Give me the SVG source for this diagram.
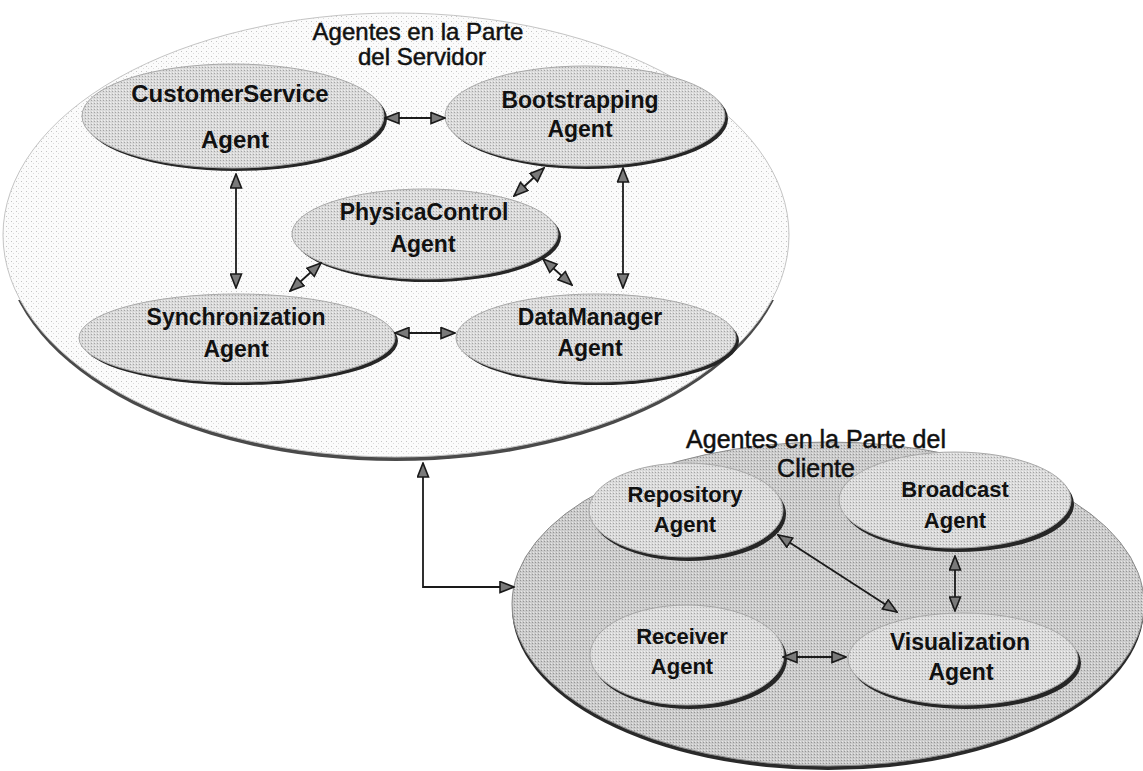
<svg xmlns="http://www.w3.org/2000/svg" width="1143" height="771" viewBox="0 0 1143 771">
<defs>
<pattern id="dots" width="5" height="5" patternUnits="userSpaceOnUse"><rect width="5" height="5" fill="#fbfbfb"/><rect x="1" y="1" width="1" height="1" fill="#c4c4c4"/><rect x="3" y="3" width="1" height="1" fill="#dcdcdc"/></pattern>
<pattern id="nodeFill" width="3" height="3" patternUnits="userSpaceOnUse"><rect width="3" height="3" fill="#dadada"/><rect x="1" y="1" width="1" height="1" fill="#a4a4a4"/><rect x="2" y="0" width="1" height="1" fill="#f0f0f0"/></pattern>
<pattern id="clientFill" width="3" height="3" patternUnits="userSpaceOnUse"><rect width="3" height="3" fill="#cbcbcb"/><rect x="1" y="1" width="1" height="1" fill="#959595"/><rect x="2" y="0" width="1" height="1" fill="#e6e6e6"/></pattern>
<clipPath id="serverLow"><rect x="0" y="300" width="1143" height="200"/></clipPath>
<clipPath id="clientLow"><rect x="400" y="590" width="743" height="190"/></clipPath>
<marker id="arr" viewBox="0 0 16 13" refX="15" refY="6.5" markerWidth="16" markerHeight="13" markerUnits="userSpaceOnUse" orient="auto-start-reverse"><path d="M1,1 L15,6.5 L1,12 Z" fill="#7a7a7a" stroke="#1a1a1a" stroke-width="1.6" stroke-linejoin="miter"/></marker>
</defs>
<style>
.lbl{font-family:"Liberation Sans",Arial,sans-serif;font-weight:bold;font-size:23px;fill:#111;text-anchor:middle}
.ttl{font-family:"Liberation Sans",Arial,sans-serif;font-size:24px;fill:#111;stroke:#111;stroke-width:0.5;text-anchor:middle}
.node{fill:url(#nodeFill);stroke:#a8a8a8;stroke-width:1}
.shadow{fill:#262626}
.conn{fill:none;stroke:#1a1a1a;stroke-width:1.8;marker-start:url(#arr);marker-end:url(#arr)}
</style>
<rect width="1143" height="771" fill="#ffffff"/>
<g id="server-group">
<ellipse cx="396" cy="239" rx="393" ry="222" fill="#4a4a4a" clip-path="url(#serverLow)"/>
<ellipse cx="396" cy="235" rx="393" ry="222" fill="url(#dots)" stroke="#c4c4c4" stroke-width="1"/>
<text class="ttl" x="418" y="40">Agentes en la Parte</text>
<text class="ttl" x="422" y="65">del Servidor</text>
</g>
<g id="client-group">
<ellipse cx="828" cy="608" rx="316" ry="162" fill="#2a2a2a" clip-path="url(#clientLow)"/>
<ellipse cx="828" cy="604" rx="316" ry="162" fill="url(#clientFill)" stroke="#8a8a8a" stroke-width="1"/>
<text class="ttl" x="816" y="448" style="font-size:25px">Agentes en la Parte del</text>
<text class="ttl" x="816" y="477" style="font-size:25px">Cliente</text>
</g>
<g id="customerservice">
<ellipse class="shadow" cx="236" cy="119" rx="151" ry="52"/>
<ellipse class="node" cx="233" cy="116" rx="151" ry="52"/>
<text class="lbl" x="230" y="102" style="font-size:24px">CustomerService</text>
<text class="lbl" x="235" y="148" style="font-size:24px">Agent</text>
</g>
<g id="boot">
<ellipse class="shadow" cx="588" cy="119" rx="140" ry="50"/>
<ellipse class="node" cx="585" cy="116" rx="140" ry="50"/>
<text class="lbl" x="580" y="108">Bootstrapping</text>
<text class="lbl" x="580" y="137">Agent</text>
</g>
<g id="physicacontrol">
<ellipse class="shadow" cx="428" cy="237" rx="133" ry="45"/>
<ellipse class="node" cx="425" cy="234" rx="133" ry="45"/>
<text class="lbl" x="424" y="220">PhysicaControl</text>
<text class="lbl" x="423" y="252">Agent</text>
</g>
<g id="synchronization">
<ellipse class="shadow" cx="240" cy="341" rx="158" ry="44"/>
<ellipse class="node" cx="237" cy="338" rx="158" ry="44"/>
<text class="lbl" x="236" y="325">Synchronization</text>
<text class="lbl" x="236" y="357">Agent</text>
</g>
<g id="datamanager">
<ellipse class="shadow" cx="599" cy="341" rx="140" ry="44"/>
<ellipse class="node" cx="596" cy="338" rx="140" ry="44"/>
<text class="lbl" x="590" y="325">DataManager</text>
<text class="lbl" x="590" y="356">Agent</text>
</g>
<g id="repository">
<ellipse class="shadow" cx="689" cy="514" rx="97" ry="47"/>
<ellipse class="node" cx="686" cy="510" rx="97" ry="47"/>
<text class="lbl" x="685" y="502" style="font-size:22px">Repository</text>
<text class="lbl" x="685" y="532" style="font-size:22px">Agent</text>
</g>
<g id="broadcast">
<ellipse class="shadow" cx="958" cy="504" rx="116" ry="48"/>
<ellipse class="node" cx="955" cy="500" rx="116" ry="48"/>
<text class="lbl" x="955" y="497" style="font-size:22px">Broadcast</text>
<text class="lbl" x="955" y="528" style="font-size:22px">Agent</text>
</g>
<g id="receiver">
<ellipse class="shadow" cx="690" cy="659" rx="97" ry="50"/>
<ellipse class="node" cx="687" cy="655" rx="97" ry="50"/>
<text class="lbl" x="682" y="644" style="font-size:22px">Receiver</text>
<text class="lbl" x="682" y="674" style="font-size:22px">Agent</text>
</g>
<g id="visualization">
<ellipse class="shadow" cx="966" cy="663" rx="115" ry="46"/>
<ellipse class="node" cx="963" cy="659" rx="115" ry="46"/>
<text class="lbl" x="960" y="650">Visualization</text>
<text class="lbl" x="961" y="680">Agent</text>
</g>
<g id="connectors">
<line class="conn" x1="385" y1="118" x2="445" y2="118"/>
<line class="conn" x1="236" y1="174" x2="236" y2="288"/>
<line class="conn" x1="544" y1="168" x2="514" y2="196"/>
<line class="conn" x1="623" y1="168" x2="623" y2="288"/>
<line class="conn" x1="321" y1="263" x2="290" y2="291"/>
<line class="conn" x1="543" y1="259" x2="572" y2="285"/>
<line class="conn" x1="395" y1="333" x2="455" y2="333"/>
<path class="conn" d="M423,463 L423,587 L514,587"/>
<line class="conn" x1="778" y1="535" x2="897" y2="612"/>
<line class="conn" x1="955" y1="556" x2="955" y2="611"/>
<line class="conn" x1="783" y1="657" x2="846" y2="657"/>
</g>
</svg>
